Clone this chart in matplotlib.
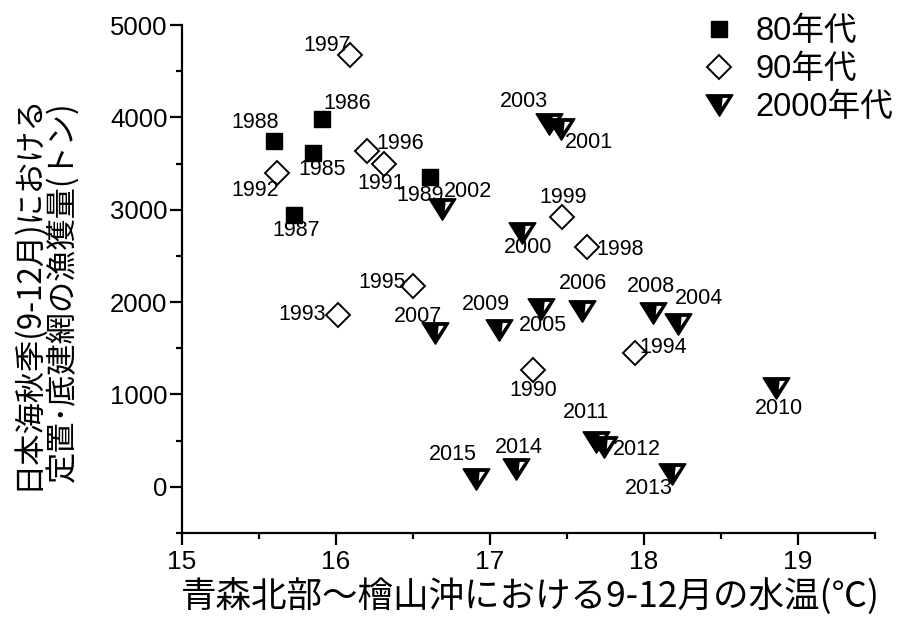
import matplotlib
matplotlib.use("Agg")
import matplotlib.pyplot as plt
from matplotlib.path import Path

# 80年代
years_80 = [1985, 1986, 1987, 1988, 1989]
temp_80 = [15.85, 15.91, 15.73, 15.60, 16.61]
catch_80 = [3610, 3980, 2940, 3740, 3350]

# 90年代
years_90 = [1990, 1991, 1992, 1993, 1994, 1995, 1996, 1997, 1998, 1999]
temp_90 = [17.28, 16.31, 15.62, 16.01, 17.94, 16.50, 16.20, 16.09, 17.63, 17.47]
catch_90 = [1270, 3500, 3400, 1860, 1450, 2175, 3640, 4670, 2600, 2920]

# 2000年代
years_00 = [2000, 2001, 2002, 2003, 2004, 2005, 2006, 2007,
            2008, 2009, 2010, 2011, 2012, 2013, 2014, 2015]
temp_00 = [17.21, 17.46, 16.69, 17.38, 18.22, 17.33, 17.60, 16.64,
           18.06, 17.06, 18.86, 17.69, 17.74, 18.18, 17.17, 16.91]
catch_00 = [2750, 3870, 3010, 3930, 1760, 1930, 1900, 1660,
            1880, 1700, 1070, 490, 430, 140, 190, 80]

legend_labels = ["80年代", "90年代", "2000年代"]
x_ticks = [15, 16, 17, 18, 19]
y_ticks = [0, 1000, 2000, 3000, 4000, 5000]

# ラベルの位置 (ピクセル, 右 / 下)
label_offsets = {
    1985: (9, 16), 1986: (25, -16), 1987: (2, 15), 1988: (-19, -19),
    1989: (-10, 18), 1990: (0, 21), 1991: (-3, 20), 1992: (-22, 18),
    1993: (-35, -1), 1994: (28, -5), 1995: (-31, -3), 1996: (33, -7),
    1997: (-23, -10), 1998: (33, 3), 1999: (1, -20), 2000: (6, 15),
    2001: (28, 13), 2002: (26, -17), 2003: (-25, -22), 2004: (21, -26),
    2005: (2, 17), 2006: (1, -28), 2007: (-17, -17), 2008: (-2, -27),
    2009: (-13, -25), 2010: (2, 21), 2011: (-10, -29), 2012: (33, 2),
    2013: (-23, 15), 2014: (3, -22), 2015: (-23, -25),
}

plt.rcParams['font.family'] = ['Liberation Sans', 'Noto Sans CJK JP', 'DejaVu Sans']


def triangle_marker():
    """下向き三角 (右上に白い穴)"""
    outer = [(-1, 0.8), (1, 0.8), (0, -0.8), (-1, 0.8)]
    inner = [(0.18, 0.64), (0.08, -0.36), (0.76, 0.64), (0.18, 0.64)]
    verts = outer + inner
    codes = [Path.MOVETO, Path.LINETO, Path.LINETO, Path.CLOSEPOLY] * 2
    return Path(verts, codes)


fig = plt.figure(figsize=(9.13, 6.17), dpi=100)
ax = fig.add_axes([182 / 913, 1 - 533 / 617, (875 - 182) / 913, (533 - 25) / 617])

ax.plot(temp_80, catch_80, ls='none', marker='s', ms=11.5, mfc='black',
        mec='black', mew=1, label=legend_labels[0])
ax.plot(temp_90, catch_90, ls='none', marker='D', ms=12.5, mfc='white',
        mec='black', mew=1.4, label=legend_labels[1])
ax.plot(temp_00, catch_00, ls='none', marker=triangle_marker(), ms=19,
        mfc='black', mec='black', mew=1.2, label=legend_labels[2])

# 年のラベル
all_years = years_80 + years_90 + years_00
all_temp = temp_80 + temp_90 + temp_00
all_catch = catch_80 + catch_90 + catch_00
for yr, t, c in zip(all_years, all_temp, all_catch):
    dx, dy = label_offsets[yr]
    ax.annotate(str(yr), (t, c), xytext=(dx, -dy), textcoords='offset pixels',
                ha='center', va='center', fontsize=15.5, zorder=5)

# 軸
ax.set_xlim(15, 19.5)
ax.set_ylim(-500, 5000)
ax.set_xticks(x_ticks)
ax.set_xticks([15.5, 16.5, 17.5, 18.5, 19.5], minor=True)
ax.set_yticks(y_ticks)
ax.set_yticks([-500, 500, 1500, 2500, 3500, 4500], minor=True)
ax.spines['top'].set_visible(False)
ax.spines['right'].set_visible(False)
for s in ['left', 'bottom']:
    ax.spines[s].set_linewidth(1.6)
ax.tick_params(which='major', length=8.5, width=1.6, direction='out')
ax.tick_params(which='minor', length=4.5, width=1.6, direction='out')
ax.tick_params(axis='y', labelsize=18.5, pad=2)
ax.tick_params(axis='x', labelsize=19, pad=4)

fig.text(530 / 913, 1 - 596 / 617, "青森北部～檜山沖における9-12月の水温(℃)",
         ha='center', va='center', fontsize=25.6, family=['Noto Sans CJK JP'])
fig.text(45 / 913, 1 - 292 / 617, "日本海秋季(9-12月)における\n定置･底建網の漁獲量(トン)",
         ha='center', va='center', rotation=90, fontsize=22.5,
         linespacing=1.05, family=['Noto Sans CJK JP'])

leg = ax.legend(loc='upper left', bbox_to_anchor=(703 / 913, 1 - 16 / 617),
                bbox_transform=fig.transFigure, frameon=False, fontsize=23.5,
                handlelength=1.0, handletextpad=0.6, labelspacing=0.22,
                borderpad=0, borderaxespad=0)

plt.savefig('out.png', dpi=100)
